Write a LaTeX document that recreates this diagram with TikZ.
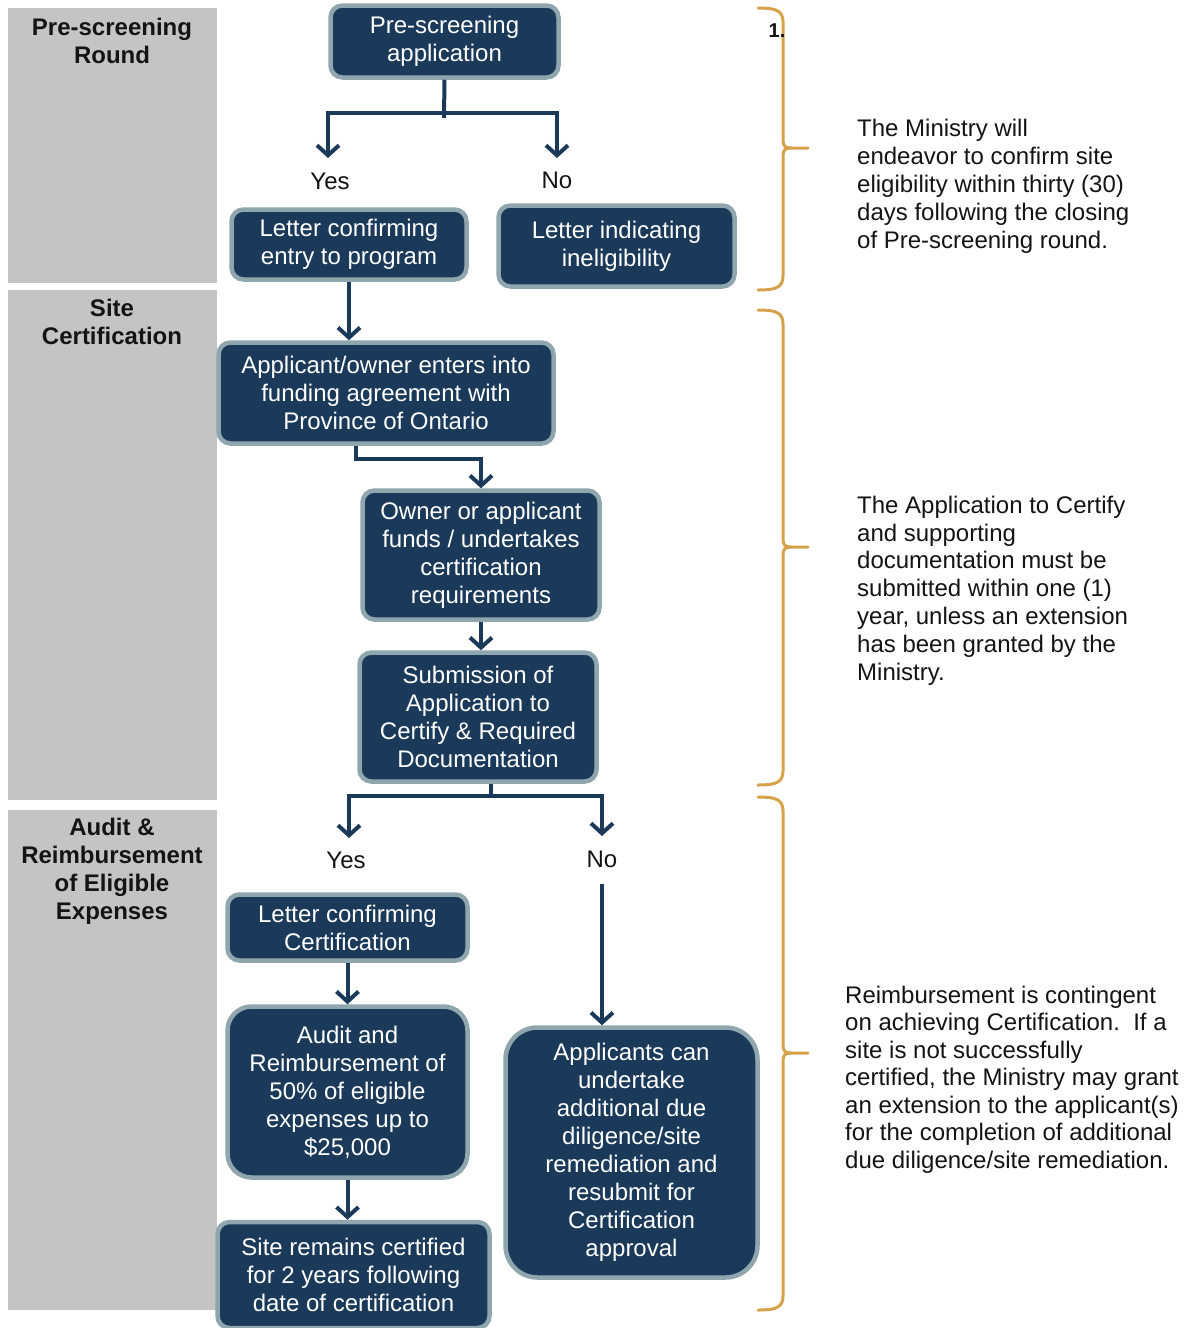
\documentclass[tikz,border=0pt]{standalone}
\usepackage{fontspec}
\setmainfont{Liberation Sans}
\usetikzlibrary{arrows.meta}
\definecolor{navy}{HTML}{1B3A5A}
\definecolor{edgegray}{HTML}{8FA6AE}
\definecolor{panelgray}{HTML}{C4C4C4}
\definecolor{gold}{HTML}{D6A24A}
\definecolor{ink}{HTML}{141414}
\tikzset{
  box/.style={draw=edgegray, line width=4.5pt, fill=navy, text=white, rounded corners=12pt,
    align=center, inner sep=0pt, font=\fontsize{24}{28}\selectfont},
  conn/.style={draw=navy, line width=4pt},
  arr/.style={conn, -{Straight Barb[length=10pt,width=22pt]}},
  panelbox/.style={fill=panelgray, draw=none, inner sep=0pt, anchor=north west},
  panellabel/.style={align=center, inner sep=0pt, text=ink, font=\bfseries\fontsize{24}{28}\selectfont},
  yn/.style={inner sep=0pt, text=ink, font=\fontsize{24}{28}\selectfont},
  note/.style={align=left, inner sep=0pt, anchor=west, text=ink},
  brace/.style={draw=gold, line width=3pt, line cap=round, line join=round}
}
\begin{document}
\begin{tikzpicture}[x=1pt,y=-1pt]
\useasboundingbox[fill=white] (0,0) rectangle (1186,1328);

% side panels
\node[panelbox, minimum width=209pt, minimum height=275pt] (p1) at (8,8) {};
\node[panelbox, minimum width=209pt, minimum height=510pt] (p2) at (8,290) {};
\node[panelbox, minimum width=209pt, minimum height=500pt] (p3) at (8,810) {};
\node[panellabel] (l1) at (112,41) {Pre-screening\\Round};
\node[panellabel] (l2) at (112,321.5) {Site\\Certification};
\node[panellabel] (l3) at (112,871) {Audit \&\\Reimbursement\\of Eligible\\Expenses};

% boxes
\node[box, minimum width=228pt, minimum height=72pt] (preapp) at (444.5,41.5) {Pre-screening\\application};
\node[box, minimum width=235pt, minimum height=70pt] (letterA) at (349,244.5) {Letter confirming\\entry to program};
\node[box, minimum width=236pt, minimum height=81pt] (letterB) at (616.5,246) {Letter indicating\\ineligibility};
\node[box, minimum width=335pt, minimum height=101pt] (agree) at (386,393) {Applicant/owner enters into\\funding agreement with\\Province of Ontario};
\node[box, minimum width=237pt, minimum height=129pt] (funds) at (481,555) {Owner or applicant\\funds / undertakes\\certification\\requirements};
\node[box, minimum width=237pt, minimum height=129pt] (submit) at (478,717) {Submission of\\Application to\\Certify \& Required\\Documentation};
\node[box, minimum width=240pt, minimum height=66pt] (lettercert) at (347.5,927.5) {Letter confirming\\Certification};
\node[box, rounded corners=24pt, minimum width=240pt, minimum height=171pt] (audit) at (347.5,1092) {Audit and\\Reimbursement of\\50\% of eligible\\expenses up to\\\$25,000};
\node[box, minimum width=272pt, minimum height=106pt] (remains) at (353.5,1275) {Site remains certified\\for 2 years following\\date of certification};
\node[box, rounded corners=32pt, minimum width=252pt, minimum height=250pt] (undertake) at (631.5,1152.5) {Applicants can\\undertake\\additional due\\diligence/site\\remediation and\\resubmit for\\Certification\\approval};

% yes / no labels
\node[yn] (yes1) at (330,181) {Yes};
\node[yn] (no1) at (557,180) {No};
\node[yn] (yes2) at (346,860) {Yes};
\node[yn] (no2) at (602,859) {No};

% connector points
\coordinate (j1) at (444,113);
\coordinate (t1) at (444,118);
\coordinate (e1) at (328,158);
\coordinate (e2) at (557,158);
\coordinate (j2) at (491,796);
\coordinate (e3) at (349,838);
\coordinate (e4) at (602,836);

% connectors
\draw[conn] (preapp.south) -- (t1);
\draw[arr] (j1) -| (e1);
\draw[arr] (j1) -| (e2);
\draw[arr] (letterA.south) -- (letterA.south |- agree.north);
\draw[arr] ([xshift=-30pt]agree.south) -- ++(0,13) -| (funds.north);
\draw[arr] (funds.south) -- (funds.south |- submit.north);
\draw[conn] ([xshift=13pt]submit.south) -- (j2);
\draw[arr] (j2) -| (e3);
\draw[arr] (j2) -| (e4);
\draw[arr, shorten <=16pt] (no2.south) -- (no2.south |- undertake.north);
\draw[arr] (lettercert.south) -- (lettercert.south |- audit.north);
\draw[arr] (audit.south) -- (audit.south |- remains.north);

% braces
\draw[brace] (758,8) .. controls (775,8) and (783,10) .. (783,22) -- (783,140)
  .. controls (783,146) and (785,148) .. (791,148) -- (808,148);
\draw[brace] (791,148) .. controls (785,148) and (783,150) .. (783,156) -- (783,276)
  .. controls (783,288) and (775,290) .. (758,290);
\draw[brace] (758,310) .. controls (775,310) and (783,312) .. (783,324) -- (783,539)
  .. controls (783,545) and (785,547) .. (791,547) -- (808,547);
\draw[brace] (791,547) .. controls (785,547) and (783,549) .. (783,555) -- (783,771)
  .. controls (783,783) and (775,785) .. (758,785);
\draw[brace] (758,797) .. controls (775,797) and (783,799) .. (783,811) -- (783,1045)
  .. controls (783,1051) and (785,1053) .. (791,1053) -- (808,1053);
\draw[brace] (791,1053) .. controls (785,1053) and (783,1055) .. (783,1061) -- (783,1296)
  .. controls (783,1308) and (775,1310) .. (758,1310);

\node[inner sep=0pt, text=ink, font=\bfseries\fontsize{20}{22}\selectfont] (one) at (777,31) {1.};

% notes
\node[note, font=\fontsize{24}{28}\selectfont] (n1) at (857,186) {The Ministry will\\endeavor to confirm site\\eligibility within thirty (30)\\days following the closing\\of Pre-screening round.};
\node[note, font=\fontsize{24}{27.8}\selectfont] (n2) at (857,590.5) {The Application to Certify\\and supporting\\documentation must be\\submitted within one (1)\\year, unless an extension\\has been granted by the\\Ministry.};
\node[note, font=\fontsize{24}{27.5}\selectfont] (n3) at (845,1079.5) {Reimbursement is contingent\\on achieving Certification.\ \ If a\\site is not successfully\\certified, the Ministry may grant\\an extension to the applicant(s)\\for the completion of additional\\due diligence/site remediation.};
\end{tikzpicture}
\end{document}
